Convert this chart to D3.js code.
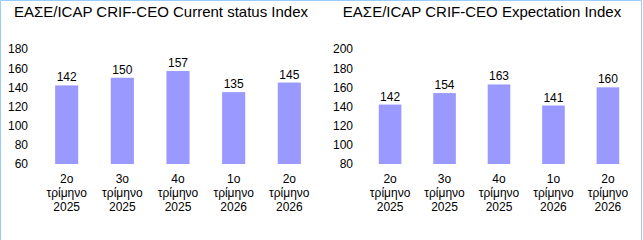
<!DOCTYPE html>
<html>
<head>
<meta charset="utf-8">
<style>
body { margin: 0; background: #fff; }
svg { display: block; font-family: "Liberation Sans", Arial, sans-serif; }
.title { font-size: 15px; fill: #000; }
.tick text { font-size: 12px; fill: #000; }
.val { font-size: 12px; fill: #000; }
.cat { font-size: 12px; fill: #000; }
</style>
</head>
<body>
<svg width="643" height="240"></svg>
<script src="https://d3js.org/d3.v7.min.js"></script>
<script>
var quarters = ["2o", "3o", "4o", "1o", "2o"];
var years = ["2025", "2025", "2025", "2026", "2026"];
var currentValues = [142, 150, 157, 135, 145];
var expectValues = [142, 154, 163, 141, 160];
var currentTicks = [60, 80, 100, 120, 140, 160, 180];
var expectTicks = [80, 100, 120, 140, 160, 180, 200];

var svg = d3.select("svg");
var barColor = "#9999ff";

// frame lines (left, top, right)
svg.append("path")
    .attr("d", "M0.5,240 V0.5 H641.5 V240")
    .attr("fill", "none")
    .attr("stroke", "#99ccff")
    .attr("stroke-width", 1);

function drawChart(opts) {
  var g = svg.append("g");
  var x = d3.scaleBand()
      .domain(d3.range(opts.values.length))
      .range([opts.x0, opts.x1])
      .paddingInner(0.585)
      .paddingOuter(0.29);
  var y = d3.scaleLinear()
      .domain([opts.ticks[0], opts.ticks[opts.ticks.length - 1]])
      .range([164, 49]);

  g.append("text")
      .attr("class", "title")
      .attr("x", opts.titleX)
      .attr("y", 17)
      .attr("text-anchor", "middle")
      .text(opts.title);

  var axis = g.append("g")
      .attr("transform", "translate(" + opts.axisX + ",0)")
      .call(d3.axisLeft(y).tickValues(opts.ticks).tickSize(0).tickPadding(0));
  axis.select(".domain").remove();
  axis.selectAll(".tick text").attr("font-family", null).attr("font-size", null);

  g.selectAll("rect.bar")
      .data(opts.values)
      .enter().append("rect")
      .attr("class", "bar")
      .attr("x", function(d, i) { return x(i); })
      .attr("width", x.bandwidth())
      .attr("y", function(d) { return y(d); })
      .attr("height", function(d) { return y(opts.ticks[0]) - y(d); })
      .attr("fill", barColor);

  g.selectAll("text.val")
      .data(opts.values)
      .enter().append("text")
      .attr("class", "val")
      .attr("x", function(d, i) { return x(i) + x.bandwidth() / 2; })
      .attr("y", function(d) { return y(d) - 4; })
      .attr("text-anchor", "middle")
      .text(function(d) { return d; });

  var cats = g.selectAll("text.cat")
      .data(opts.values)
      .enter().append("text")
      .attr("class", "cat")
      .attr("text-anchor", "middle")
      .attr("y", 183);
  cats.each(function(d, i) {
    var t = d3.select(this);
    var cx = x(i) + x.bandwidth() / 2;
    [quarters[i], "τρίμηνο", years[i]].forEach(function(s, k) {
      t.append("tspan").attr("x", cx).attr("dy", k === 0 ? 0 : 14).text(s);
    });
  });
}

drawChart({
  title: "ΕΑΣΕ/ICAP CRIF-CEO Current status Index",
  titleX: 161,
  values: currentValues,
  ticks: currentTicks,
  axisX: 28,
  x0: 39,
  x1: 317
});

drawChart({
  title: "ΕΑΣΕ/ICAP CRIF-CEO Expectation Index",
  titleX: 482,
  values: expectValues,
  ticks: expectTicks,
  axisX: 353,
  x0: 363,
  x1: 635
});
</script>
</body>
</html>
